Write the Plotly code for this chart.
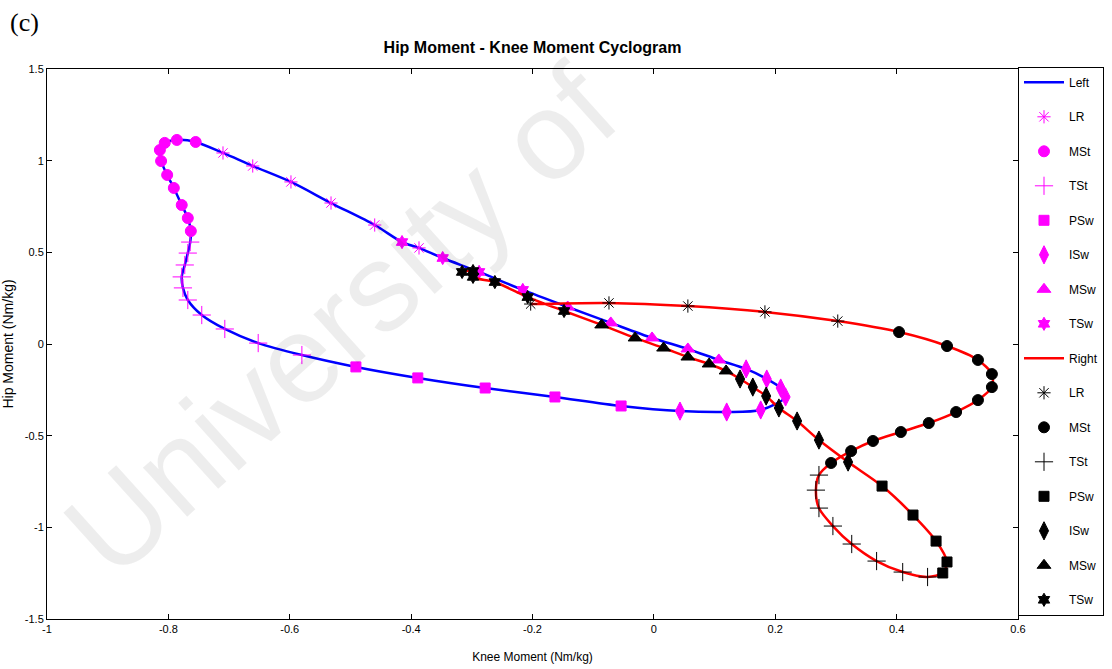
import plotly.graph_objects as go

# ---------------- data ----------------
phases = ["LR", "MSt", "TSt", "PSw", "ISw", "MSw", "TSw"]

left_knee = [-0.387, -0.415, -0.460, -0.532, -0.598, -0.661, -0.710,
             -0.755, -0.786, -0.806, -0.814, -0.812, -0.802, -0.791, -0.778, -0.768, -0.763,
             -0.764, -0.768, -0.773, -0.778, -0.776, -0.768, -0.745, -0.707, -0.652, -0.580,
             -0.491, -0.389, -0.278, -0.163, -0.054,
             0.043, 0.120, 0.176, 0.217, 0.209, 0.186, 0.152,
             0.107, 0.056, -0.003, -0.071, -0.142,
             -0.216, -0.288, -0.348]
left_hip = [0.524, 0.556, 0.649, 0.769, 0.884, 0.971, 1.042,
            1.102, 1.113, 1.097, 1.058, 0.998, 0.922, 0.851, 0.758, 0.687, 0.616,
            0.556, 0.496, 0.431, 0.366, 0.306, 0.240, 0.158, 0.082, 0.005, -0.060,
            -0.125, -0.185, -0.240, -0.289, -0.338,
            -0.366, -0.371, -0.360, -0.289, -0.240, -0.191, -0.136,
            -0.087, -0.027, 0.033, 0.115, 0.202,
            0.295, 0.393, 0.469]
left_phase = (["LR", "TSw", "LR", "LR", "LR", "LR", "LR"]
              + ["MSt"] * 10 + ["TSt"] * 10 + ["PSw"] * 5
              + ["ISw"] * 7 + ["MSw"] * 5 + ["TSw"] * 3)

right_knee = [-0.203, -0.074, 0.056, 0.183, 0.303,
              0.404, 0.483, 0.534, 0.557, 0.557, 0.534, 0.498, 0.453, 0.407, 0.361, 0.325, 0.292,
              0.272, 0.267, 0.272, 0.295, 0.326, 0.367, 0.410, 0.451,
              0.476, 0.483, 0.465, 0.427, 0.376,
              0.320, 0.272, 0.236, 0.206, 0.185, 0.163, 0.142,
              0.119, 0.091, 0.056, 0.016, -0.031, -0.086,
              -0.148, -0.208, -0.262, -0.298, -0.298, -0.316]
right_hip = [0.218, 0.224, 0.207, 0.175, 0.125,
             0.065, -0.011, -0.087, -0.164, -0.235, -0.306, -0.371, -0.431, -0.480, -0.529, -0.584, -0.649,
             -0.715, -0.797, -0.895, -0.993, -1.091, -1.184, -1.244, -1.271,
             -1.249, -1.189, -1.075, -0.933, -0.775,
             -0.644, -0.524, -0.420, -0.349, -0.284, -0.235, -0.191,
             -0.147, -0.109, -0.071, -0.022, 0.033, 0.104,
             0.180, 0.256, 0.338, 0.366, 0.398, 0.393]
right_phase = (["LR"] * 5 + ["MSt"] * 12 + ["TSt"] * 8 + ["PSw"] * 5
               + ["ISw"] * 7 + ["MSw"] * 6 + ["TSw"] * 6)

x_ticks = [-1, -0.8, -0.6, -0.4, -0.2, 0, 0.2, 0.4, 0.6]
x_tick_labels = ["-1", "-0.8", "-0.6", "-0.4", "-0.2", "0", "0.2", "0.4", "0.6"]
y_ticks = [-1.5, -1, -0.5, 0, 0.5, 1, 1.5]
y_tick_labels = ["-1.5", "-1", "-0.5", "0", "0.5", "1", "1.5"]

# ---------------- styles ----------------
symbols = {"LR": "asterisk-open", "MSt": "circle", "TSt": "cross-thin-open",
           "PSw": "square", "ISw": "diamond-tall", "MSw": "triangle-up", "TSw": "hexagram"}
sizes = {"LR": 11, "MSt": 11, "TSt": 13, "PSw": 10, "ISw": 13, "MSw": 12, "TSw": 10}
FONT = "Liberation Sans Narrow, Arial Narrow, Liberation Sans, Arial, sans-serif"

fig = go.Figure()


def add_side(name, xs, ys, ph, line_color, mark_color, closed, gid):
    lx = list(xs) + ([xs[0]] if closed else [])
    ly = list(ys) + ([ys[0]] if closed else [])
    fig.add_trace(go.Scatter(x=lx, y=ly, mode="lines", name=name,
                             line=dict(color=line_color, width=2.5, shape="spline", smoothing=0.8),
                             legendgroup=f"{gid}-line"))
    for p in phases:
        px = [x for x, q in zip(xs, ph) if q == p]
        py = [y for y, q in zip(ys, ph) if q == p]
        fig.add_trace(go.Scatter(
            x=px, y=py, mode="markers", name=p, legendgroup=f"{gid}-{p}",
            marker=dict(symbol=symbols[p], size=sizes[p], color=mark_color,
                        line=dict(color=mark_color, width=1))))


add_side("Left", left_knee, left_hip, left_phase, "#0000ff", "#ff00ff", True, "L")
add_side("Right", right_knee, right_hip, right_phase, "#ff0000", "#000000", False, "R")

axis_common = dict(showline=True, linecolor="black", linewidth=1, mirror="ticks",
                   ticks="inside", ticklen=5, tickcolor="black", showgrid=False,
                   zeroline=False, tickfont=dict(family=FONT, size=11, color="black"))

fig.update_layout(
    width=1112, height=669, autosize=False,
    margin=dict(l=47, r=94, t=69, b=50, autoexpand=False),
    paper_bgcolor="white", plot_bgcolor="white",
    title=dict(text="<b>Hip Moment - Knee Moment Cyclogram</b>", x=0.5, xref="paper",
               y=1 - 47 / 669, yanchor="middle",
               font=dict(family=FONT, size=16, color="black")),
    xaxis=dict(range=[-1, 0.6], tickvals=x_ticks, ticktext=x_tick_labels,
               title=dict(text="Knee Moment (Nm/kg)", standoff=18,
                          font=dict(family=FONT, size=12, color="black")),
               **axis_common),
    yaxis=dict(range=[-1.5, 1.5], tickvals=y_ticks, ticktext=y_tick_labels,
               title=dict(text="Hip Moment (Nm/kg)", standoff=8,
                          font=dict(family=FONT, size=14, color="black")),
               **axis_common),
    legend=dict(x=1.0, xanchor="left", y=1.004, yanchor="top",
                bordercolor="black", borderwidth=1, bgcolor="white",
                font=dict(family=FONT, size=12, color="black"),
                itemwidth=40, maxheight=600,
                tracegroupgap=15.5, traceorder="grouped"),
    showlegend=True,
)

fig.add_annotation(text="(c)", xref="paper", yref="paper",
                   x=(8 - 47) / 971, y=(619 - 22) / 550, xanchor="left", yanchor="middle",
                   showarrow=False, font=dict(family="Liberation Serif, DejaVu Serif, serif",
                                              size=26, color="black"))

fig.add_annotation(text="University of", xref="x", yref="y", x=-0.517, y=0.13,
                   textangle=-42, showarrow=False,
                   font=dict(family="Liberation Sans, Arial, sans-serif", size=125,
                             color="rgba(0,0,0,0.07)"))

fig.write_html("out.html")
